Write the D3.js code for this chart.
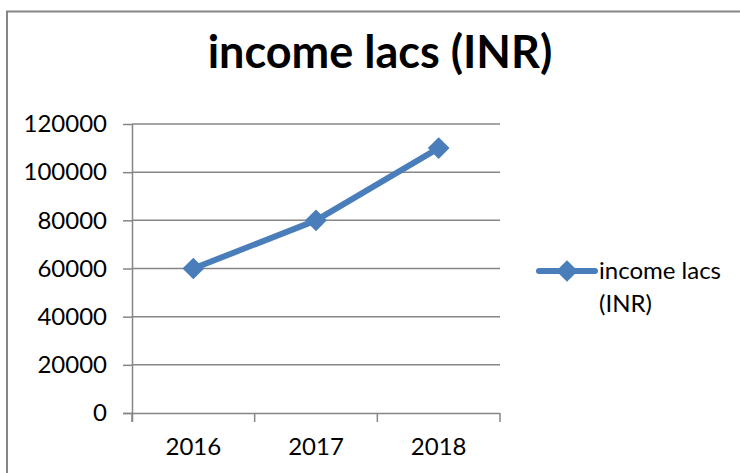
<!DOCTYPE html>
<html>
<head>
<meta charset="utf-8">
<script src="https://cdn.jsdelivr.net/npm/d3@7"></script>
<style>
  body { margin: 0; background: #fff; }
  svg { display: block; }
  text { font-family: Lato, "Open Sans", sans-serif; fill: #000; }
</style>
</head>
<body>
<div id="chart"></div>
<script>
// chart data
var years = ["2016", "2017", "2018"];
var income = [60000, 80000, 110000];
var yTicks = [0, 20000, 40000, 60000, 80000, 100000, 120000];
var seriesName = "income lacs (INR)";

var width = 740, height = 473;
var plot = { left: 132, right: 500, top: 124, bottom: 413 };
var blue = "#4a7ebb", grey = "#868686";

var svg = d3.select("#chart").append("svg")
  .attr("width", width)
  .attr("height", height);

// outer chart frame
svg.append("rect")
  .attr("x", 7).attr("y", 11.5)
  .attr("width", 760).attr("height", 480)
  .attr("fill", "#fff")
  .attr("stroke", grey)
  .attr("stroke-width", 2);

svg.append("text")
  .attr("x", 380).attr("y", 68)
  .attr("text-anchor", "middle")
  .style("font-size", "45px")
  .style("font-weight", "bold")
  .text(seriesName);

var x = d3.scaleBand().domain(years).range([plot.left, plot.right]);
var y = d3.scaleLinear().domain([0, 120000]).range([plot.bottom, plot.top]);

// gridlines
svg.append("g").selectAll("line")
  .data(yTicks.filter(d => d > 0))
  .join("line")
  .attr("x1", plot.left).attr("x2", plot.right)
  .attr("y1", d => y(d)).attr("y2", d => y(d))
  .attr("stroke", grey).attr("stroke-width", 1.5);

var yAxis = svg.append("g")
  .attr("transform", "translate(" + plot.left + ",0)")
  .call(d3.axisLeft(y).tickValues(yTicks).tickSize(9).tickPadding(16).tickFormat(d3.format("d")));

var xAxis = svg.append("g")
  .attr("transform", "translate(0," + plot.bottom + ")")
  .call(d3.axisBottom(x).tickSize(0).tickPadding(25));

// category boundary ticks on the x axis
svg.append("g").selectAll("line")
  .data(years.map(d => x(d)).concat([plot.right]))
  .join("line")
  .attr("x1", d => d).attr("x2", d => d)
  .attr("y1", plot.bottom).attr("y2", plot.bottom + 9)
  .attr("stroke", grey).attr("stroke-width", 1.5);

[yAxis, xAxis].forEach(function (g) {
  g.select(".domain").attr("stroke", grey).attr("stroke-width", 1.5);
  g.selectAll(".tick line").attr("stroke", grey).attr("stroke-width", 1.5);
  g.selectAll(".tick text").style("font-size", "24px").attr("fill", "#000");
});
xAxis.select(".domain").attr("d", "M" + (plot.left - 9) + ",0.5H" + plot.right);
yAxis.select(".domain").attr("d", "M0.5," + plot.top + "V" + (plot.bottom + 9));

var diamond = d3.symbol().type(d3.symbolDiamond2).size(300);

var line = d3.line()
  .x((d, i) => x(years[i]) + x.bandwidth() / 2)
  .y(d => y(d));

svg.append("path")
  .datum(income)
  .attr("d", line)
  .attr("fill", "none")
  .attr("stroke", blue)
  .attr("stroke-width", 6)
  .attr("stroke-linejoin", "round");

svg.append("g").selectAll("path")
  .data(income)
  .join("path")
  .attr("transform", (d, i) => "translate(" + (x(years[i]) + x.bandwidth() / 2) + "," + y(d) + ")")
  .attr("d", diamond)
  .attr("fill", blue);

// legend
var legend = svg.append("g").attr("transform", "translate(539,271)");
legend.append("line")
  .attr("x1", 0).attr("x2", 56)
  .attr("stroke", blue).attr("stroke-width", 6).attr("stroke-linecap", "round");
legend.append("path")
  .attr("transform", "translate(28,0)")
  .attr("d", diamond)
  .attr("fill", blue);
var lt = legend.append("text")
  .attr("x", 60).attr("y", 8)
  .style("font-size", "24px");
lt.append("tspan").attr("x", 60).text("income lacs");
lt.append("tspan").attr("x", 60).attr("dy", 33).text("(INR)");
</script>
</body>
</html>
